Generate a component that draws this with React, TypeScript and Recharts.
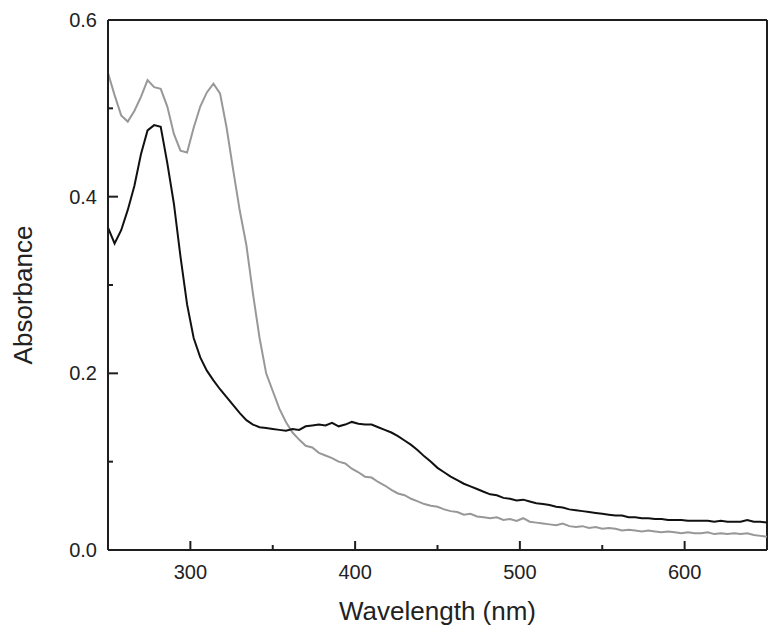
import React from 'react';
import { LineChart, Line, XAxis, YAxis, ReferenceLine, Label } from 'recharts';

const wavelengths = [
  250, 254, 258, 262, 266, 270, 274, 278, 282, 286,
  290, 294, 298, 302, 306, 310, 314, 318, 322, 326,
  330, 334, 338, 342, 346, 350, 354, 358, 362, 366,
  370, 374, 378, 382, 386, 390, 394, 398, 402, 406,
  410, 414, 418, 422, 426, 430, 434, 438, 442, 446,
  450, 454, 458, 462, 466, 470, 474, 478, 482, 486,
  490, 494, 498, 502, 506, 510, 514, 518, 522, 526,
  530, 534, 538, 542, 546, 550, 554, 558, 562, 566,
  570, 574, 578, 582, 586, 590, 594, 598, 602, 606,
  610, 614, 618, 622, 626, 630, 634, 638, 642, 646,
  650,
];

const blackAbsorbance = [
  0.365, 0.347, 0.362, 0.385, 0.412, 0.448, 0.475, 0.481, 0.479, 0.438,
  0.392, 0.332, 0.278, 0.240, 0.218, 0.203, 0.192, 0.182, 0.173, 0.164,
  0.155, 0.147, 0.142, 0.139, 0.138, 0.137, 0.136, 0.135, 0.137, 0.136,
  0.140, 0.141, 0.142, 0.141, 0.144, 0.140, 0.142, 0.145, 0.143, 0.142,
  0.142, 0.139, 0.136, 0.133, 0.129, 0.124, 0.119, 0.113, 0.106, 0.100,
  0.093, 0.088, 0.083, 0.079, 0.075, 0.072, 0.069, 0.066, 0.063, 0.062,
  0.059, 0.058, 0.056, 0.057, 0.055, 0.053, 0.052, 0.051, 0.049, 0.048,
  0.046, 0.045, 0.044, 0.043, 0.042, 0.041, 0.040, 0.039, 0.039, 0.037,
  0.037, 0.036, 0.036, 0.035, 0.035, 0.034, 0.034, 0.034, 0.033, 0.033,
  0.033, 0.033, 0.032, 0.033, 0.032, 0.032, 0.032, 0.034, 0.032, 0.032,
  0.031,
];

const greyAbsorbance = [
  0.540, 0.515, 0.492, 0.485, 0.497, 0.513, 0.532, 0.524, 0.522, 0.502,
  0.471, 0.452, 0.450, 0.478, 0.502, 0.518, 0.528, 0.517, 0.478, 0.430,
  0.384, 0.345, 0.290, 0.240, 0.200, 0.180, 0.160, 0.145, 0.133, 0.125,
  0.118, 0.116, 0.110, 0.107, 0.104, 0.100, 0.098, 0.092, 0.088, 0.083,
  0.082, 0.077, 0.073, 0.068, 0.064, 0.062, 0.058, 0.055, 0.052, 0.050,
  0.049, 0.046, 0.044, 0.043, 0.040, 0.041, 0.038, 0.037, 0.036, 0.037,
  0.034, 0.035, 0.033, 0.036, 0.032, 0.031, 0.030, 0.029, 0.028, 0.030,
  0.027, 0.026, 0.027, 0.025, 0.026, 0.024, 0.025, 0.024, 0.022, 0.023,
  0.022, 0.021, 0.022, 0.021, 0.020, 0.021, 0.020, 0.019, 0.020, 0.019,
  0.019, 0.020, 0.018, 0.019, 0.018, 0.019, 0.018, 0.019, 0.017, 0.016,
  0.015,
];

const xTicks = [300, 350, 400, 450, 500, 550, 600];
const xMajorTicks = [300, 400, 500, 600];
const yTicks = [0, 0.1, 0.2, 0.3, 0.4, 0.5, 0.6];
const yMajorTicks = [0, 0.2, 0.4, 0.6];

const xTitle = 'Wavelength (nm)';
const yTitle = 'Absorbance';

const data = wavelengths.map((wl, i) => ({
  wl,
  black: blackAbsorbance[i],
  grey: greyAbsorbance[i],
}));

const FONT = '"Liberation Sans", Arial, Helvetica, sans-serif';
const AXIS_COLOR = '#1e1e1e';
const TEXT_COLOR = '#222';

const isMajor = (v: number, list: number[]) => list.some((m) => Math.abs(m - v) < 1e-9);

const XTick = (props: any) => {
  const { x, y, payload } = props;
  const major = isMajor(payload.value, xMajorTicks);
  return (
    <g>
      <line x1={x} x2={x} y1={y} y2={y - (major ? 9 : 5)} stroke={AXIS_COLOR} strokeWidth={2} />
      {major && (
        <text x={x} y={y + 29} textAnchor="middle" fontFamily={FONT} fontSize={20} fill={TEXT_COLOR}>
          {String(payload.value)}
        </text>
      )}
    </g>
  );
};

const YTick = (props: any) => {
  const { x, y, payload } = props;
  const major = isMajor(payload.value, yMajorTicks);
  return (
    <g>
      <line x1={x} x2={x + (major ? 10 : 5)} y1={y} y2={y} stroke={AXIS_COLOR} strokeWidth={2} />
      {major && (
        <text x={x - 11} y={y + 7} textAnchor="end" fontFamily={FONT} fontSize={20} fill={TEXT_COLOR}>
          {Number(payload.value).toFixed(1)}
        </text>
      )}
    </g>
  );
};

const XTitle = (props: any) => {
  const vb = props.viewBox || {};
  const cx = vb.x + vb.width / 2;
  const cy = vb.y + 70;
  return (
    <text x={cx} y={cy} textAnchor="middle" fontFamily={FONT} fontSize={26} fill={TEXT_COLOR}>
      {xTitle}
    </text>
  );
};

const YTitle = (props: any) => {
  const vb = props.viewBox || {};
  const cx = vb.x + 24;
  const cy = vb.y + vb.height / 2 + 10;
  return (
    <text
      x={cx}
      y={cy}
      textAnchor="middle"
      transform={`rotate(-90, ${cx}, ${cy})`}
      fontFamily={FONT}
      fontSize={26}
      fill={TEXT_COLOR}
    >
      {yTitle}
    </text>
  );
};

export default function App() {
  return (
    <div style={{ width: 772, height: 627, background: '#fff' }}>
      <LineChart
        width={772}
        height={627}
        data={data}
        margin={{ top: 12, right: 13, bottom: 25, left: 0 }}
      >
        <XAxis
          dataKey="wl"
          type="number"
          domain={[250, 650]}
          ticks={xTicks}
          tick={<XTick />}
          tickSize={0}
          tickMargin={0}
          tickLine={false}
          axisLine={{ stroke: AXIS_COLOR, strokeWidth: 2 }}
          height={60}
          allowDataOverflow
        >
          <Label content={<XTitle />} />
        </XAxis>
        <YAxis
          type="number"
          domain={[0, 0.6]}
          ticks={yTicks}
          tick={<YTick />}
          tickSize={0}
          tickMargin={0}
          tickLine={false}
          axisLine={{ stroke: AXIS_COLOR, strokeWidth: 2 }}
          width={100}
          allowDataOverflow
        >
          <Label content={<YTitle />} />
        </YAxis>
        <ReferenceLine y={0.6} stroke={AXIS_COLOR} strokeWidth={2} ifOverflow="visible" />
        <ReferenceLine x={650} stroke={AXIS_COLOR} strokeWidth={2} ifOverflow="visible" />
        <Line
          type="linear"
          dataKey="grey"
          stroke="#989898"
          strokeWidth={2}
          dot={false}
          isAnimationActive={false}
        />
        <Line
          type="linear"
          dataKey="black"
          stroke="#111111"
          strokeWidth={2}
          dot={false}
          isAnimationActive={false}
        />
      </LineChart>
    </div>
  );
}
